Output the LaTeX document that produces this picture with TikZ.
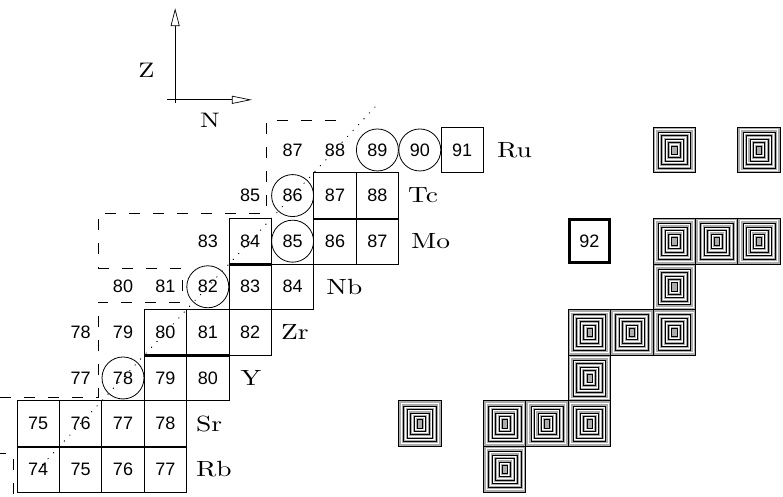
\documentclass[tikz,border=0pt]{standalone}
\usepackage{fontspec}
\newfontfamily\numfont{Liberation Sans}
\newfontfamily\elemfont[FakeStretch=1.25]{lmroman10-regular.otf}
\usetikzlibrary{arrows.meta}

\tikzset{
  isobox/.style={draw, line width=0.8pt, minimum width=42.4pt, minimum height=45.6pt,
    inner sep=0pt, font=\numfont\fontsize{18}{18}\selectfont},
  isoring/.style={draw, circle, line width=0.8pt, minimum size=42pt,
    inner sep=0pt, font=\numfont\fontsize{18}{18}\selectfont},
  isofree/.style={inner sep=0pt, font=\numfont\fontsize{18}{18}\selectfont},
  elem/.style={anchor=west, inner sep=0pt, font=\elemfont\fontsize{22}{22}\selectfont},
  heavy/.style={line width=2.4pt},
  limitline/.style={line width=0.7pt, dash pattern=on 11pt off 13pt},
  nzline/.style={line width=1pt, line cap=round, dash pattern=on 0.5pt off 7.5pt},
  shell/.style={draw, line width=0.8pt, fill=gray!65, minimum width=42.4pt,
    minimum height=45.6pt, inner sep=0pt,
    path picture={
      \foreach \d/\w/\c in {2.5pt/0.8pt/white, 5pt/0.5pt/black, 6.5pt/0.8pt/white,
          8.5pt/0.5pt/black, 10pt/0.8pt/white, 12pt/0.5pt/black, 13.5pt/0.8pt/white,
          15.5pt/0.5pt/black, 17pt/0.8pt/white, 18.6pt/0.5pt/black}
        \draw[line width=\w, \c]
          ([shift={(\d,\d)}]path picture bounding box.south west) rectangle
          ([shift={(-\d,-\d)}]path picture bounding box.north east);
    }},
}

\begin{document}
\begin{tikzpicture}[x=42.4pt, y=45.6pt]
  \useasboundingbox (-0.901,-0.610) rectangle (17.566,10.289);

  % axes
  \coordinate (zbase) at (3.23,8.03);
  \coordinate (ztip) at (3.23,10.11);
  \coordinate (nbase) at (3.04,8.10);
  \coordinate (ntip) at (5.04,8.10);
  \draw[line width=0.7pt, -{Triangle[open, length=18pt, width=9pt]}] (zbase) -- (ztip);
  \draw[line width=0.7pt, -{Triangle[open, length=20pt, width=8pt]}] (nbase) -- (ntip);
  \node[elem, anchor=center, font=\elemfont\fontsize{21}{21}\selectfont] (zlab) at (2.55,8.75) {Z};
  \node[elem, anchor=center, font=\elemfont\fontsize{21}{21}\selectfont] (nlab) at (4.05,7.66) {N};

  % boundary of known nuclei
  \draw[limitline] (-0.90,1.583) -- (1.42,1.583) -- (1.42,3.66) -- (3.39,3.66)
    -- (3.39,4.41) -- (1.42,4.41) -- (1.42,5.62) -- (5.37,5.62) -- (5.37,7.64) -- (7.12,7.64);
  \draw[limitline, dash phase=5pt] (-0.90,0.355) -- (-0.594,0.355) -- (-0.594,-0.61);

  % N = Z
  \draw[nzline] (0.1,0.1) -- (8.05,8.05);

  % Rb
  \node[isobox] (rb74) at (0,0) {74};
  \node[isobox] (rb75) at (1,0) {75};
  \node[isobox] (rb76) at (2,0) {76};
  \node[isobox] (rb77) at (3,0) {77};
  \node[elem] (lrb) at ([xshift=9pt]rb77.east) {Rb};

  % Sr
  \node[isobox] (sr75) at (0,1) {75};
  \node[isobox] (sr76) at (1,1) {76};
  \node[isobox] (sr77) at (2,1) {77};
  \node[isobox] (sr78) at (3,1) {78};
  \node[elem] (lsr) at ([xshift=9pt]sr78.east) {Sr};

  % Y
  \node[isofree] (y77) at (1,2) {77};
  \node[isoring] (y78) at (2,2) {78};
  \node[isobox] (y79) at (3,2) {79};
  \node[isobox] (y80) at (4,2) {80};
  \node[elem] (ly) at ([xshift=11pt]y80.east) {Y};

  % Zr
  \node[isofree] (zr78) at (1,3) {78};
  \node[isofree] (zr79) at (2,3) {79};
  \node[isobox] (zr80) at (3,3) {80};
  \node[isobox] (zr81) at (4,3) {81};
  \node[isobox] (zr82) at (5,3) {82};
  \node[elem] (lzr) at ([xshift=9pt]zr82.east) {Zr};

  % Nb
  \node[isofree] (nb80) at (2,4) {80};
  \node[isofree] (nb81) at (3,4) {81};
  \node[isoring] (nb82) at (4,4) {82};
  \node[isobox] (nb83) at (5,4) {83};
  \node[isobox] (nb84) at (6,4) {84};
  \node[elem] (lnb) at ([xshift=12pt]nb84.east) {Nb};

  % Mo
  \node[isofree] (mo83) at (4,5) {83};
  \node[isobox] (mo84) at (5,5) {84};
  \node[isoring] (mo85) at (6,5) {85};
  \node[isobox] (mo86) at (7,5) {86};
  \node[isobox] (mo87) at (8,5) {87};
  \node[elem] (lmo) at ([xshift=12pt]mo87.east) {Mo};

  % Tc
  \node[isofree] (tc85) at (5,6) {85};
  \node[isoring] (tc86) at (6,6) {86};
  \node[isobox] (tc87) at (7,6) {87};
  \node[isobox] (tc88) at (8,6) {88};
  \node[elem] (ltc) at ([xshift=9pt]tc88.east) {Tc};

  % Ru
  \node[isofree] (ru87) at (6,7) {87};
  \node[isofree] (ru88) at (7,7) {88};
  \node[isoring] (ru89) at (8,7) {89};
  \node[isoring] (ru90) at (9,7) {90};
  \node[isobox] (ru91) at (10,7) {91};
  \node[elem] (lru) at ([xshift=13pt]ru91.east) {Ru};

  % heavy edges
  \draw[heavy] (sr75.south west) -- (sr78.south east);
  \draw[heavy] (zr80.south west) -- (zr81.south east);
  \draw[heavy] (mo84.south west) -- (mo84.south east);
  \draw[heavy] (tc87.south west) -- (tc88.south east);

  % shaded squares
  \node[shell] (sh1) at (9,1) {};
  \node[shell] (sh2) at (11,1) {};
  \node[shell] (sh3) at (12,1) {};
  \node[shell] (sh4) at (13,1) {};
  \node[shell] (sh5) at (11,0) {};
  \node[shell] (sh6) at (13,2) {};
  \node[shell] (sh7) at (13,3) {};
  \node[shell] (sh8) at (14,3) {};
  \node[shell] (sh9) at (15,3) {};
  \node[shell] (sh10) at (15,4) {};
  \node[shell] (sh11) at (15,5) {};
  \node[shell] (sh12) at (16,5) {};
  \node[shell] (sh13) at (17,5) {};
  \node[shell] (sh14) at (15,7) {};
  \node[shell] (sh15) at (17,7) {};

  \node[draw, line width=3pt, minimum width=39.4pt, minimum height=42.6pt, inner sep=0pt,
    font=\numfont\fontsize{18}{18}\selectfont] (a92) at (13,5) {92};
\end{tikzpicture}
\end{document}
